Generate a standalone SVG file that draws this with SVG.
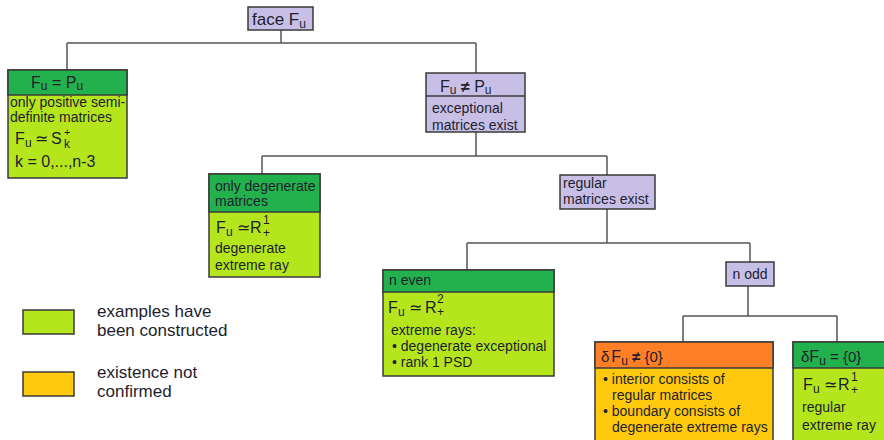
<svg xmlns="http://www.w3.org/2000/svg" width="884" height="440" viewBox="0 0 884 440">
<style>
text{font-family:"Liberation Sans",Arial,sans-serif;fill:#1e1e2e;font-size:14px}
.box{stroke:#3a3a3a;stroke-width:1.5}
.lav{fill:#C8BFE7}
.grn{fill:#22B14C}
.lim{fill:#B5E61D}
.org{fill:#FF7F27}
.yel{fill:#FFC90E}
.sep{stroke:#3a3a3a;stroke-width:1.5}
.f{font-size:16px}
.s{font-size:12px}
.ss{font-size:11px}
.h{font-size:15px}
.lg{font-size:17px}
#connectors path{fill:none;stroke:#555;stroke-width:1.5}
</style>
<rect width="884" height="440" fill="#fff"/>
<g id="connectors">
<path d="M281 30V43M67 43H476M67 43V70M476 43V73"/>
<path d="M476 132V156M262 156H607M262 156V174M607 156V175"/>
<path d="M607 209V243M467 243H750M467 243V270M750 243V262"/>
<path d="M748 286V316M683 316H837M683 316V342M837 316V342"/>
</g>
<g id="face">
<rect class="box lav" x="248" y="7" width="65" height="23"/>
<text x="252" y="25" class="lg">face F<tspan class="s" dy="3">u</tspan></text>
</g>
<g id="fu-eq-pu">
<rect class="box lim" x="8" y="70" width="119" height="108"/>
<rect class="box grn" x="8" y="70" width="119" height="25"/>
<text x="31" y="88" class="f">F<tspan class="s" dy="2">u</tspan><tspan dy="-2"> = P</tspan><tspan class="s" dy="2">u</tspan></text>
<text x="10" y="107">only positive semi-</text>
<text x="10" y="122">definite matrices</text>
<text x="15" y="144" class="f">F</text><text x="25" y="147" class="s">u</text>
<text x="35" y="144" class="f">≃</text>
<text x="51" y="144" class="f">S</text>
<text x="64" y="136" class="ss">+</text><text x="64" y="148" class="s">k</text>
<text x="15" y="167" class="f">k = 0,...,n-3</text>
</g>
<g id="fu-neq-pu">
<rect class="box lav" x="426" y="73" width="99" height="59"/>
<line class="sep" x1="426" y1="96" x2="525" y2="96"/>
<text x="440" y="92" class="f">F<tspan class="s" dy="2">u</tspan><tspan dy="-2" font-weight="bold"> ≠ </tspan>P<tspan class="s" dy="2">u</tspan></text>
<text x="432" y="113">exceptional</text>
<text x="432" y="130">matrices exist</text>
</g>
<g id="only-degenerate">
<rect class="box lim" x="209" y="174" width="111" height="103"/>
<rect class="box grn" x="209" y="174" width="111" height="38"/>
<text x="215" y="191">only degenerate</text>
<text x="215" y="206">matrices</text>
<text x="216" y="233" class="f">F</text><text x="226" y="236" class="s">u</text>
<text x="237" y="233" class="f">≃</text>
<text x="250" y="233" class="f">R</text>
<text x="263" y="224" class="s">1</text><text x="263" y="237" class="s">+</text>
<text x="215" y="253">degenerate</text>
<text x="215" y="270">extreme ray</text>
</g>
<g id="regular">
<rect class="box lav" x="560" y="175" width="95" height="34"/>
<text x="563" y="188">regular</text>
<text x="563" y="204">matrices exist</text>
</g>
<g id="n-even">
<rect class="box lim" x="383" y="270" width="171" height="106"/>
<rect class="box grn" x="383" y="270" width="171" height="22"/>
<text x="389" y="285">n even</text>
<text x="388" y="313" class="f">F</text><text x="398" y="316" class="s">u</text>
<text x="409" y="313" class="f">≃</text>
<text x="425" y="313" class="f">R</text>
<text x="437" y="303" class="s">2</text><text x="437" y="316" class="s">+</text>
<text x="391" y="335">extreme rays:</text>
<text x="392" y="351">• degenerate exceptional</text>
<text x="392" y="367">• rank 1 PSD</text>
</g>
<g id="n-odd">
<rect class="box lav" x="726" y="262" width="48" height="24"/>
<text x="750" y="279" text-anchor="middle">n odd</text>
</g>
<g id="dF-neq">
<rect class="box yel" x="595" y="342" width="178" height="104"/>
<rect class="box org" x="595" y="342" width="178" height="26"/>
<text x="601" y="362" class="h">δ<tspan class="f" dx="2">F</tspan><tspan class="s" dy="3">u</tspan><tspan dy="-3" font-weight="bold"> ≠ </tspan>{0}</text>
<text x="603" y="384">• interior consists of</text>
<text x="612" y="400">regular matrices</text>
<text x="603" y="416">• boundary consists of</text>
<text x="612" y="432">degenerate extreme rays</text>
</g>
<g id="dF-eq">
<rect class="box lim" x="793" y="342" width="100" height="104"/>
<rect class="box grn" x="793" y="342" width="100" height="26"/>
<text x="801" y="362" class="h">δ<tspan class="f">F</tspan><tspan class="s" dy="3">u</tspan><tspan dy="-3"> = {0}</tspan></text>
<text x="803" y="390" class="f">F</text><text x="813" y="393" class="s">u</text>
<text x="824" y="390" class="f">≃</text>
<text x="838" y="390" class="f">R</text>
<text x="851" y="381" class="s">1</text><text x="851" y="394" class="s">+</text>
<text x="802" y="412">regular</text>
<text x="802" y="430">extreme ray</text>
</g>
<g id="legend">
<rect class="box lim" x="23" y="310" width="51" height="24"/>
<text x="97" y="317" class="lg">examples have</text>
<text x="97" y="336" class="lg">been constructed</text>
<rect class="box yel" x="23" y="372" width="51" height="24"/>
<text x="97" y="378" class="lg">existence not</text>
<text x="97" y="397" class="lg">confirmed</text>
</g>
</svg>
